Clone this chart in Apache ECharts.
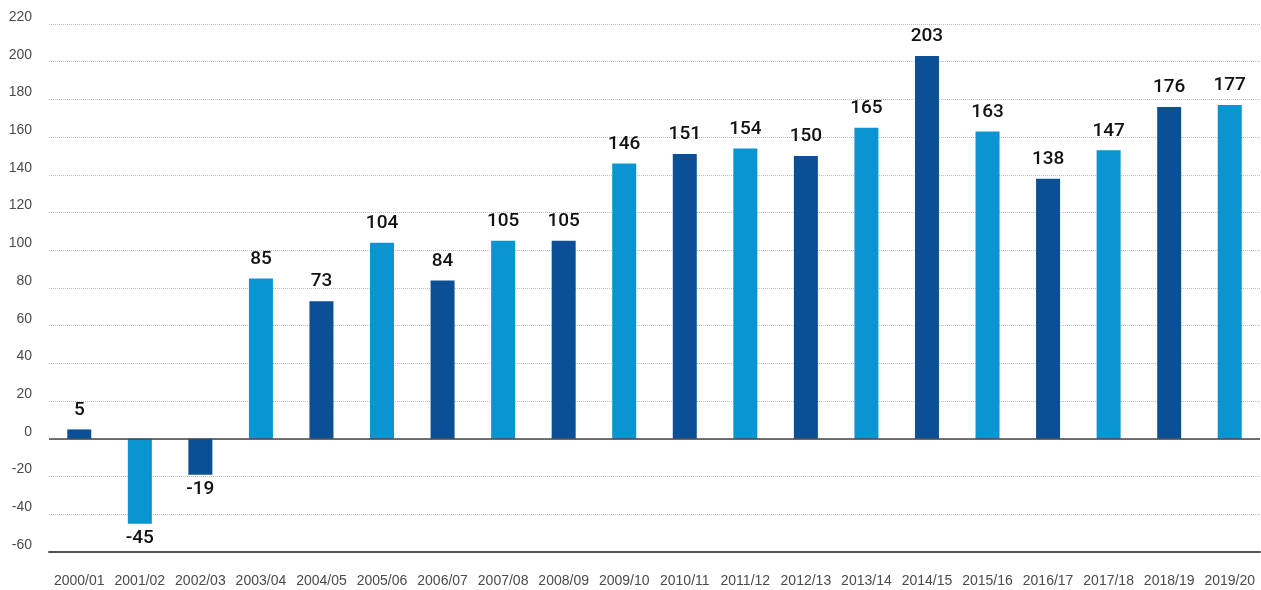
<!DOCTYPE html>
<html>
<head>
<meta charset="utf-8">
<script src="https://cdn.jsdelivr.net/npm/echarts@6/dist/echarts.min.js"></script>
<style>
html,body{margin:0;padding:0;background:#fff;}
#chart{width:1261px;height:590px;}
</style>
</head>
<body>
<div id="chart"></div>
<script>
var categories = ["2000/01","2001/02","2002/03","2003/04","2004/05","2005/06","2006/07","2007/08","2008/09","2009/10","2010/11","2011/12","2012/13","2013/14","2014/15","2015/16","2016/17","2017/18","2018/19","2019/20"];
// bar heights as drawn in the picture
var barValues = [5,-45,-19,85,73,104,84,105,105,146,151,154,150,165,203,163,138,153,176,177];
// numbers printed above the bars
var valueLabels = ["5","-45","-19","85","73","104","84","105","105","146","151","154","150","165","203","163","138","147","176","177"];
var yTicks = {min:-60, max:220, interval:20};
var darkBlue = "#0b4f96";
var lightBlue = "#0a94d1";

var data = barValues.map(function(v,i){
  return {
    value: v,
    itemStyle: {color: i % 2 === 0 ? darkBlue : lightBlue},
    label: v < 0 ? {position:'bottom', distance:5} : {position:'top', distance:10}
  };
});

var chart = echarts.init(document.getElementById('chart'));
chart.setOption({
  animation:false,
  grid:{left:49, right:1, top:24, bottom:38, containLabel:false},
  xAxis:{
    type:'category',
    data:categories,
    axisLine:{onZero:false, lineStyle:{color:'#555', width:2}},
    axisTick:{show:false},
    axisLabel:{color:'#4a4a4a', fontSize:14, margin:22, fontFamily:'Liberation Sans, Arial, sans-serif', interval:0}
  },
  yAxis:{
    type:'value',
    min:yTicks.min, max:yTicks.max, interval:yTicks.interval,
    axisLine:{show:false},
    axisTick:{show:false},
    axisLabel:{color:'#4a4a4a', fontSize:14, margin:17, verticalAlign:'bottom', fontFamily:'Liberation Sans, Arial, sans-serif'},
    splitLine:{show:true, lineStyle:{color:'#bdbdbd', type:[1,1], width:1}}
  },
  series:[{
    type:'bar',
    data:data,
    barWidth:24,
    label:{
      show:true,
      fontSize:19,
      fontWeight:500,
      fontFamily:'Roboto, Liberation Sans, sans-serif',
      color:'#111',
      formatter:function(p){return valueLabels[p.dataIndex];}
    },
    markLine:{
      silent:true,
      symbol:['none','none'],
      label:{show:false},
      lineStyle:{color:'#444', width:1.5, type:'solid'},
      data:[{yAxis:0}]
    }
  }]
});
</script>
</body>
</html>
